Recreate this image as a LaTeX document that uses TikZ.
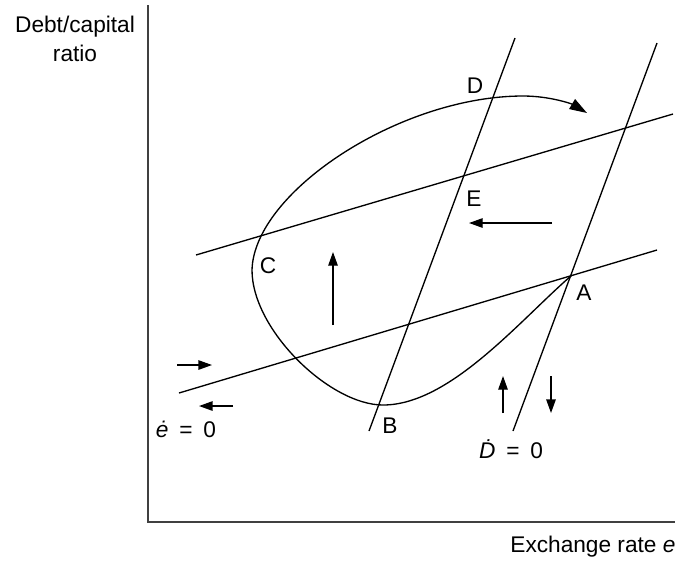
\documentclass[tikz,border=0pt]{standalone}
\usepackage{fontspec}
\setmainfont{Liberation Sans}
\usetikzlibrary{arrows.meta}
\tikzset{
  % one pixel of the sketch is one unit, y runs downwards
  every picture/.append style = {line width=0.8pt},
  axisline/.style = {line width=1.3pt, black!75},
  locus/.style    = {line width=1pt},
  flow/.style     = {-{Triangle[length=3.6mm, width=2.5mm]}, line width=1pt},
  lbl/.style      = {font=\fontsize{17}{22}\selectfont, inner sep=0pt},
}

\begin{document}
\begin{tikzpicture}[x=0.75pt,y=-0.75pt]
  \useasboundingbox (0,0) rectangle (680,562);
  % --- axes -----------------------------------------------------------------
  \coordinate (origin) at (148,522);
  \coordinate (ytop) at (148,5);
  \coordinate (xend) at (675,522);
  \draw[axisline] (ytop) -- (origin) -- (xend);
  \node[lbl, align=center] (ylab) at (75,39) {Debt/capital\\ratio};
  \node[lbl, anchor=base east] (xlab) at (676,552) {Exchange rate \textit{e}};
  % --- e-dot = 0 schedules ----------------------------------------------------
  \coordinate (eLoA) at (179,393);
  \coordinate (eLoB) at (657,250);
  \coordinate (eHiA) at (196,255);
  \coordinate (eHiB) at (673,114);
  \draw[locus] (eLoA) -- (eLoB);
  \draw[locus] (eHiA) -- (eHiB);
  \node[lbl, anchor=base] (eZero) at (186,437) {\textit{\.e}\hspace{0.2em} = \hspace{0.2em}0};
  % --- D-dot = 0 schedules ----------------------------------------------------
  \coordinate (dLeA) at (369,431);
  \coordinate (dLeB) at (515,38);
  \coordinate (dRiA) at (513,431);
  \coordinate (dRiB) at (657,43);
  \draw[locus] (dLeA) -- (dLeB);
  \draw[locus] (dRiA) -- (dRiB);
  \node[lbl, anchor=base] (dZero) at (511,458) {\textit{\.D}\hspace{0.2em} = \hspace{0.2em}0};
  % --- adjustment loop A-B-C-D ------------------------------------------------
  \coordinate (loopA) at (572,275);
  \coordinate (loopB) at (383,405);
  \coordinate (loopC) at (252,270);
  \coordinate (loopD) at (523,96);
  \coordinate (loopEnd) at (587,113);
  \draw[locus, -{Triangle[length=4.6mm, width=3mm]}]
    (loopA) .. controls (520,320) and (450,405) .. (loopB)
            .. controls (330,405) and (252,330) .. (loopC)
            .. controls (254,192) and (400,96) .. (loopD)
            .. controls (550,96) and (572,104) .. (loopEnd);
  \node[lbl] (ptA) at (584,293) {A};
  \node[lbl] (ptB) at (390,426) {B};
  \node[lbl] (ptC) at (268,266) {C};
  \node[lbl] (ptD) at (475,86) {D};
  \node[lbl] (ptE) at (474,199) {E};
  % --- direction arrows -------------------------------------------------------
  \draw[flow] (177,365) -- (212,365);
  \draw[flow] (233,406) -- (199,406);
  \draw[flow] (333,325) -- (333,252);
  \draw[flow] (552,223) -- (469,223);
  \draw[flow] (503,413) -- (503,376);
  \draw[flow] (551,376) -- (551,413);
\end{tikzpicture}
\end{document}
